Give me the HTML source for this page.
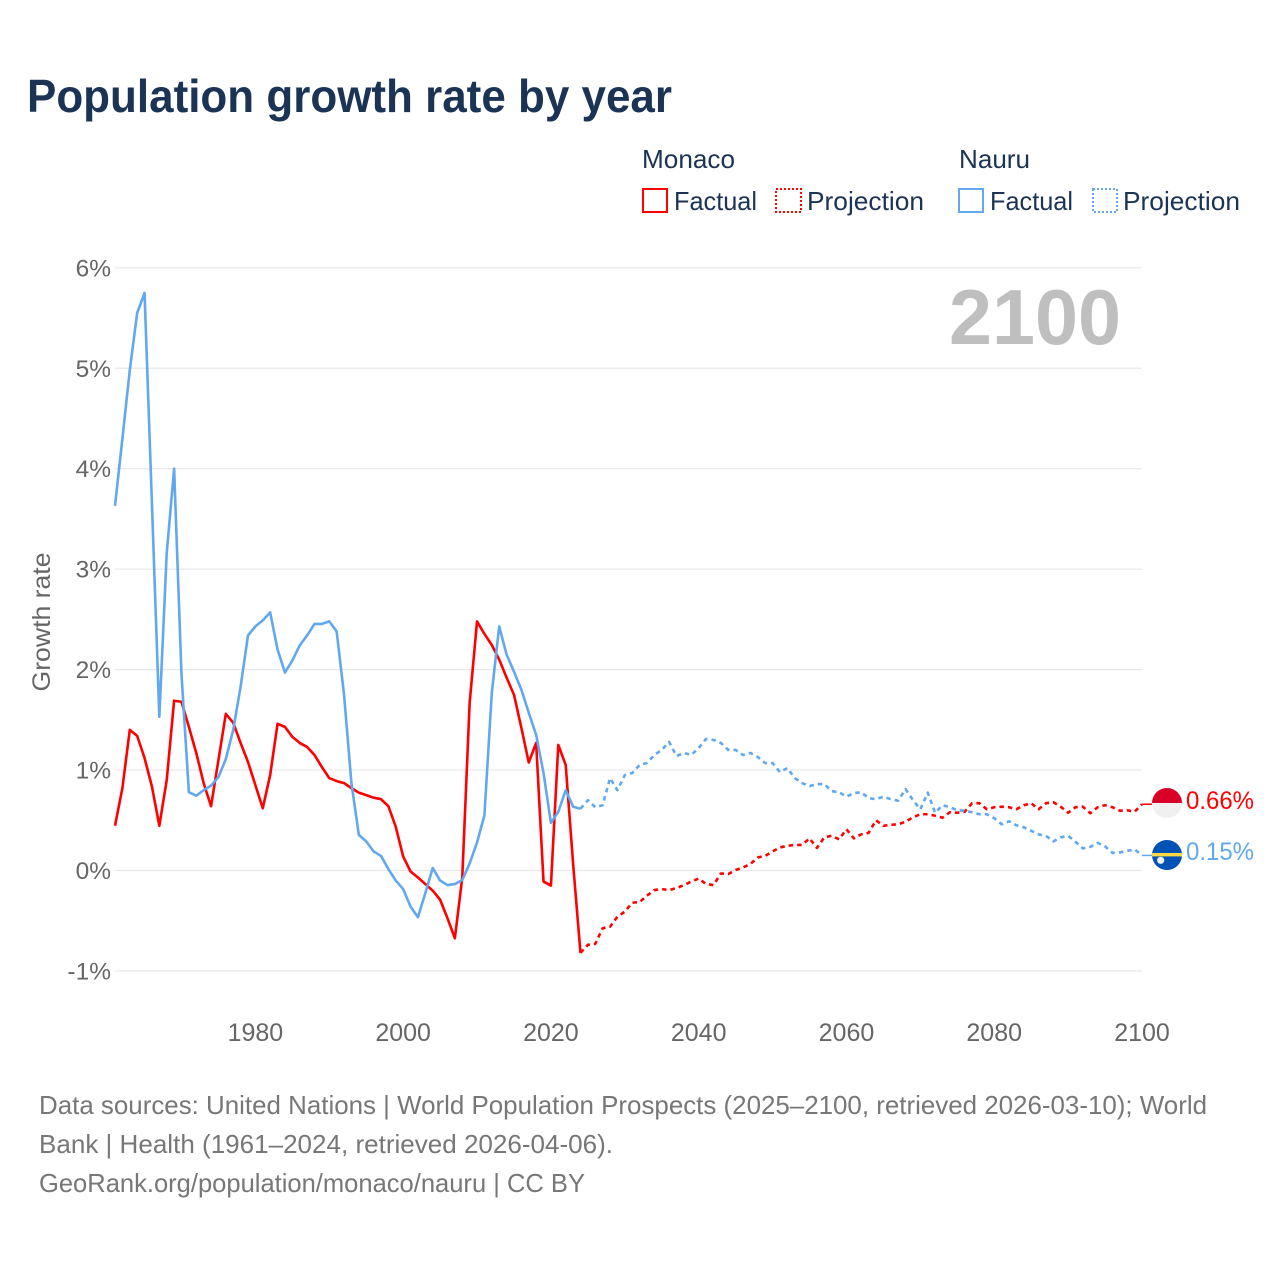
<!DOCTYPE html>
<html lang="en">
<head>
<meta charset="utf-8">
<title>Population growth rate by year</title>
<style>
html,body{margin:0;padding:0;background:#fff;}
#chart{display:block;width:1280px;height:1280px;font-family:"Liberation Sans",sans-serif;}
</style>
</head>
<body>
<svg id="chart" xmlns="http://www.w3.org/2000/svg" width="1280" height="1280" viewBox="0 0 1280 1280">
  <rect x="0" y="0" width="1280" height="1280" fill="#ffffff"/>
  <text x="27" y="112" font-size="46" font-weight="700" fill="#1b3354" textLength="645" lengthAdjust="spacingAndGlyphs">Population growth rate by year</text>

  <g font-size="26" fill="#1b3354">
    <text x="642" y="168" textLength="93" lengthAdjust="spacingAndGlyphs">Monaco</text>
    <rect x="643" y="189" width="24" height="23" fill="none" stroke="#ff0000" stroke-width="2"/>
    <text x="674" y="210" textLength="83" lengthAdjust="spacingAndGlyphs">Factual</text>
    <rect x="776" y="189" width="25" height="23" fill="none" stroke="#ff0000" stroke-width="2" stroke-dasharray="2 2"/>
    <text x="807" y="210" textLength="117" lengthAdjust="spacingAndGlyphs">Projection</text>
    <text x="959" y="168" textLength="71" lengthAdjust="spacingAndGlyphs">Nauru</text>
    <rect x="959" y="189" width="24" height="23" fill="none" stroke="#62a8ee" stroke-width="2"/>
    <text x="990" y="210" textLength="83" lengthAdjust="spacingAndGlyphs">Factual</text>
    <rect x="1093" y="189" width="24" height="23" fill="none" stroke="#62a8ee" stroke-width="2" stroke-dasharray="2 2"/>
    <text x="1123" y="210" textLength="117" lengthAdjust="spacingAndGlyphs">Projection</text>
  </g>

  <g id="grid"></g>
  <g id="yticks" font-size="24.5" fill="#666666" text-anchor="end"></g>
  <g id="xticks" font-size="25" fill="#666666" text-anchor="middle"></g>
  <text transform="translate(50,622) rotate(-90)" font-size="25" fill="#666666" text-anchor="middle" textLength="139" lengthAdjust="spacingAndGlyphs">Growth rate</text>
  <text x="1121" y="344" font-size="78" font-weight="700" fill="#bfbfbf" text-anchor="end" textLength="172" lengthAdjust="spacingAndGlyphs">2100</text>

  <g id="series"></g>

  <g id="flag-monaco">
    <clipPath id="clip-mc"><circle cx="1167" cy="803" r="15"/></clipPath>
    <circle cx="1167" cy="803" r="15" fill="#f0f0f0"/>
    <rect x="1152" y="788" width="30" height="15" fill="#d80027" clip-path="url(#clip-mc)"/>
  </g>
  <g id="flag-nauru">
    <clipPath id="clip-nr"><circle cx="1167" cy="855" r="15"/></clipPath>
    <circle cx="1167" cy="855" r="15" fill="#0052b4"/>
    <rect x="1152" y="853" width="30" height="3.4" fill="#ffda44" clip-path="url(#clip-nr)"/>
    <circle cx="1160.7" cy="860.3" r="3.6" fill="#f0f0f0"/>
  </g>
  <text id="label-monaco" x="1186" y="809" font-size="25" fill="#ff0000" textLength="68" lengthAdjust="spacingAndGlyphs"></text>
  <text id="label-nauru" x="1186" y="860" font-size="25" fill="#62a8ee" textLength="68" lengthAdjust="spacingAndGlyphs"></text>

  <g font-size="26" fill="#777777">
    <text x="39" y="1114" textLength="1168" lengthAdjust="spacingAndGlyphs">Data sources: United Nations | World Population Prospects (2025–2100, retrieved 2026-03-10); World</text>
    <text x="39" y="1153" textLength="574" lengthAdjust="spacingAndGlyphs">Bank | Health (1961–2024, retrieved 2026-04-06).</text>
    <text x="39" y="1192" textLength="546" lengthAdjust="spacingAndGlyphs">GeoRank.org/population/monaco/nauru | CC BY</text>
  </g>
</svg>
<script>
var yTickValues = [6, 5, 4, 3, 2, 1, 0, -1];
var xTickValues = [1980, 2000, 2020, 2040, 2060, 2080, 2100];
var factualStartYear = 1961;
var projectionStartYear = 2024;

var monacoFactual = [0.445,0.82,1.40,1.34,1.12,0.835,0.445,0.90,1.69,1.68,1.43,1.17,0.87,0.64,1.10,1.56,1.47,1.27,1.08,0.85,0.62,0.95,1.46,1.43,1.33,1.27,1.23,1.15,1.03,0.92,0.89,0.87,0.82,0.775,0.75,0.725,0.71,0.64,0.435,0.14,-0.01,-0.07,-0.135,-0.20,-0.29,-0.475,-0.675,-0.07,1.67,2.48,2.355,2.245,2.10,1.92,1.75,1.42,1.075,1.27,-0.11,-0.15,1.25,1.05,0.07,-0.82];

var monacoProjection = [-0.82,-0.74,-0.73,-0.575,-0.56,-0.46,-0.41,-0.32,-0.315,-0.25,-0.195,-0.185,-0.195,-0.175,-0.145,-0.11,-0.08,-0.135,-0.145,-0.03,-0.035,0.005,0.03,0.065,0.13,0.145,0.19,0.23,0.245,0.255,0.255,0.32,0.225,0.33,0.345,0.31,0.41,0.32,0.36,0.375,0.50,0.445,0.455,0.46,0.485,0.53,0.56,0.56,0.545,0.525,0.58,0.575,0.585,0.67,0.67,0.61,0.63,0.635,0.63,0.61,0.65,0.67,0.61,0.67,0.68,0.635,0.575,0.63,0.635,0.57,0.63,0.65,0.63,0.595,0.60,0.585,0.66];

var nauruFactual = [3.63,4.3,4.98,5.55,5.75,3.65,1.53,3.16,4.0,1.95,0.78,0.745,0.80,0.845,0.93,1.11,1.40,1.83,2.34,2.43,2.49,2.57,2.2,1.97,2.09,2.24,2.34,2.455,2.455,2.48,2.38,1.75,0.87,0.355,0.29,0.19,0.145,0.015,-0.10,-0.185,-0.36,-0.465,-0.225,0.025,-0.10,-0.145,-0.135,-0.095,0.07,0.28,0.55,1.77,2.43,2.15,1.98,1.80,1.57,1.35,0.97,0.475,0.585,0.80,0.635,0.615];

var nauruProjection = [0.615,0.70,0.63,0.65,0.92,0.80,0.95,0.97,1.05,1.07,1.15,1.20,1.28,1.14,1.17,1.15,1.22,1.31,1.30,1.27,1.20,1.20,1.15,1.17,1.13,1.07,1.07,0.98,1.02,0.92,0.87,0.84,0.86,0.86,0.79,0.78,0.735,0.77,0.78,0.72,0.71,0.735,0.71,0.695,0.81,0.70,0.61,0.775,0.575,0.65,0.63,0.60,0.595,0.58,0.56,0.56,0.52,0.46,0.49,0.45,0.43,0.395,0.36,0.345,0.29,0.33,0.345,0.285,0.22,0.235,0.275,0.24,0.175,0.18,0.195,0.21,0.15];

var SVG_NS = 'http://www.w3.org/2000/svg';
var plotLeft = 115, plotRight = 1142, xMinYear = 1961, xMaxYear = 2100;
var zeroPixel = 870.5, pixelsPerPercent = 100.45;

function xScale(year) {
  return plotLeft + (year - xMinYear) * (plotRight - plotLeft) / (xMaxYear - xMinYear);
}
function yScale(value) {
  return zeroPixel - value * pixelsPerPercent;
}
function linePath(values, startYear) {
  var d = '';
  for (var i = 0; i < values.length; i++) {
    d += (i ? 'L' : 'M') + xScale(startYear + i).toFixed(2) + ' ' + yScale(values[i]).toFixed(2);
  }
  return d;
}

var gridGroup = document.getElementById('grid');
var yTickGroup = document.getElementById('yticks');
yTickValues.forEach(function (v) {
  var line = document.createElementNS(SVG_NS, 'line');
  
  
  line.setAttribute('x1', plotLeft);
  line.setAttribute('x2', plotRight);
  line.setAttribute('y1', yScale(v));
  line.setAttribute('y2', yScale(v));
  line.setAttribute('stroke', '#e8e8e8');
  line.setAttribute('stroke-width', '1.2');
  gridGroup.appendChild(line);
  var label = document.createElementNS(SVG_NS, 'text');
  
  
  label.setAttribute('x', 111);
  label.setAttribute('y', yScale(v) + 8.5);
  label.textContent = v + '%';
  yTickGroup.appendChild(label);
});

var xTickGroup = document.getElementById('xticks');
xTickValues.forEach(function (yr) {
  var label = document.createElementNS(SVG_NS, 'text');
  
  
  label.setAttribute('x', xScale(yr));
  label.setAttribute('y', 1041);
  label.textContent = String(yr);
  xTickGroup.appendChild(label);
});

var seriesGroup = document.getElementById('series');
function addSeries(values, startYear, color, dashed) {
  var path = document.createElementNS(SVG_NS, 'path');
  
  
  path.setAttribute('d', linePath(values, startYear));
  path.setAttribute('fill', 'none');
  path.setAttribute('stroke', color);
  path.setAttribute('stroke-width', '2.6');
  path.setAttribute('stroke-linejoin', 'round');
  if (dashed) {
    path.setAttribute('stroke-dasharray', '4.5 4');
  }
  seriesGroup.appendChild(path);
}
function addLeader(value, color) {
  var line = document.createElementNS(SVG_NS, 'line');
  
  
  line.setAttribute('x1', plotRight);
  line.setAttribute('x2', plotRight + 10);
  line.setAttribute('y1', yScale(value));
  line.setAttribute('y2', yScale(value));
  line.setAttribute('stroke', color);
  line.setAttribute('stroke-width', '1.5');
  seriesGroup.appendChild(line);
}
addSeries(monacoFactual, factualStartYear, '#ff0000', false);
addSeries(monacoProjection, projectionStartYear, '#ff0000', true);
addSeries(nauruFactual, factualStartYear, '#62a8ee', false);
addSeries(nauruProjection, projectionStartYear, '#62a8ee', true);
addLeader(monacoProjection[monacoProjection.length - 1], '#ff0000');
addLeader(nauruProjection[nauruProjection.length - 1], '#62a8ee');

document.getElementById('label-monaco').textContent = monacoProjection[monacoProjection.length - 1].toFixed(2) + '%';
document.getElementById('label-nauru').textContent = nauruProjection[nauruProjection.length - 1].toFixed(2) + '%';
</script>
</body>
</html>
